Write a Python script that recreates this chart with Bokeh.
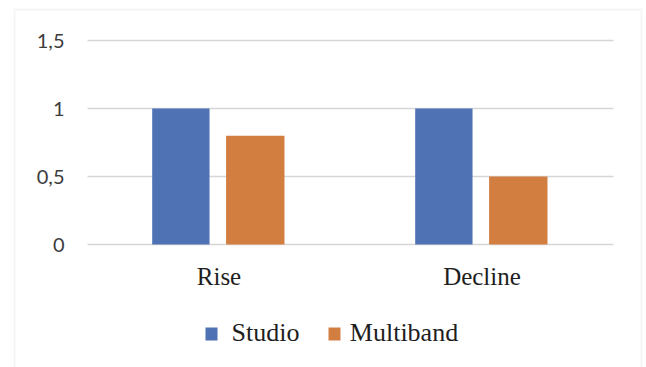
from bokeh.plotting import figure
from bokeh.models import (Range1d, FixedTicker, CustomJSTickFormatter, LinearAxis,
                          BoxAnnotation, ColumnDataSource)
from bokeh.transform import dodge
from bokeh.embed import file_html
from bokeh.resources import INLINE

# Data
categories = ["Rise", "Decline"]
series_names = ["Studio", "Multiband"]
studio = [1.0, 1.0]
multiband = [0.8, 0.5]
y_ticks = [0, 0.5, 1, 1.5]

STUDIO_COLOR = "#4e72b4"
MULTI_COLOR = "#d17e40"
GRID_COLOR = "#d6d6d6"
FRAME_COLOR = "#d9d9d9"
TEXT_COLOR = "#1e1e1e"
SERIF = "Liberation Serif"

# layout of the plotting area inside the chart box (pixels)
AREA_LEFT, PX_PER_CAT = 74, 263      # from the box's left edge
ZERO_FROM_BOTTOM, PX_PER_UNIT = 123, 136


def box_x(px):
    """horizontal offset inside the box (px) -> x coordinate"""
    return (px - AREA_LEFT) / PX_PER_CAT


def box_y(px):
    """offset above the box bottom (px) -> y coordinate"""
    return (px - ZERO_FROM_BOTTOM) / PX_PER_UNIT


def hide_axis_marks(axis):
    axis.axis_line_color = None
    axis.major_tick_line_color = None
    axis.minor_tick_line_color = None
    axis.major_tick_out = 0
    axis.major_tick_in = 0


# each category occupies one unit; its centre sits at index + 0.5
cat_pos = [i + 0.5 for i in range(len(categories))]
source = ColumnDataSource(dict(x=cat_pos, studio=studio, multiband=multiband))

# the frame is the whole chart box; the plotting area is x 0..2, y 0..1.5
p = figure(
    width=646, height=367,
    x_range=Range1d(box_x(0), box_x(629)),
    y_range=Range1d(box_y(0), box_y(359)),
    output_backend="svg", toolbar_location=None,
    min_border_left=13, min_border_right=4,
    min_border_top=8, min_border_bottom=0,
)
p.background_fill_color = "white"
p.border_fill_color = "white"
p.outline_line_color = None

p.vbar(x=dodge("x", -0.145), top="studio", width=0.218,
       source=source, fill_color=STUDIO_COLOR, line_color=None)
p.vbar(x=dodge("x", 0.138), top="multiband", width=0.222,
       source=source, fill_color=MULTI_COLOR, line_color=None)

# horizontal gridlines across the plotting area only
p.xgrid.grid_line_color = None
p.ygrid.grid_line_color = GRID_COLOR
p.ygrid.grid_line_width = 1.6
p.ygrid.ticker = FixedTicker(ticks=y_ticks)
p.ygrid.cross_bounds = (0, len(categories))
p.ygrid.level = "underlay"

# value axis with decimal commas, pinned to the left edge of the plotting area
p.yaxis.fixed_location = 0
p.yaxis.ticker = FixedTicker(ticks=y_ticks)
p.yaxis.formatter = CustomJSTickFormatter(code="return String(tick).replace('.', ',');")
hide_axis_marks(p.yaxis[0])
p.yaxis.major_label_standoff = 23
p.yaxis.major_label_text_font = "Lato"
p.yaxis.major_label_text_font_size = "20px"
p.yaxis.major_label_text_color = "#3c3c3c"

# category axis pinned at zero
p.xaxis.fixed_location = 0
p.xaxis.ticker = FixedTicker(ticks=cat_pos)
p.xaxis.formatter = CustomJSTickFormatter(
    args=dict(cats=categories),
    code="return cats[Math.round(tick - 0.5)];")
hide_axis_marks(p.xaxis[0])
p.xaxis.major_label_standoff = 18
p.xaxis.major_label_text_font = SERIF
p.xaxis.major_label_text_font_size = "25px"
p.xaxis.major_label_text_color = TEXT_COLOR

# legend row under the categories: colour swatch + serif label per series
swatch_left = [192, 315]
swatch_colors = [STUDIO_COLOR, MULTI_COLOR]
label_centres = [252, 390.5]
for sx, color in zip(swatch_left, swatch_colors):
    p.add_layout(BoxAnnotation(left=sx, right=sx + 12, bottom=27, top=40,
                               left_units="screen", right_units="screen",
                               top_units="screen", bottom_units="screen",
                               fill_color=color, fill_alpha=1, line_color=None))

label_x = [box_x(c) for c in label_centres]
legend_axis = LinearAxis(
    fixed_location=box_y(50),
    ticker=FixedTicker(ticks=label_x),
    formatter=CustomJSTickFormatter(
        args=dict(xs=label_x, names=series_names),
        code="""
            let best = 0;
            for (let i = 0; i < xs.length; i++) {
                if (Math.abs(xs[i] - tick) < Math.abs(xs[best] - tick)) best = i;
            }
            return names[best];
        """),
    major_label_standoff=0,
    major_label_text_font=SERIF,
    major_label_text_font_size="26px",
    major_label_text_color=TEXT_COLOR,
)
hide_axis_marks(legend_axis)
p.add_layout(legend_axis, "below")

# chart box: left, top and right edges
p.add_layout(BoxAnnotation(left=1, right=628, top=358, bottom=-10,
                           left_units="screen", right_units="screen",
                           top_units="screen", bottom_units="screen",
                           fill_alpha=0, line_color=FRAME_COLOR, line_width=2))

open("out.html", "w").write(file_html(p, INLINE))
